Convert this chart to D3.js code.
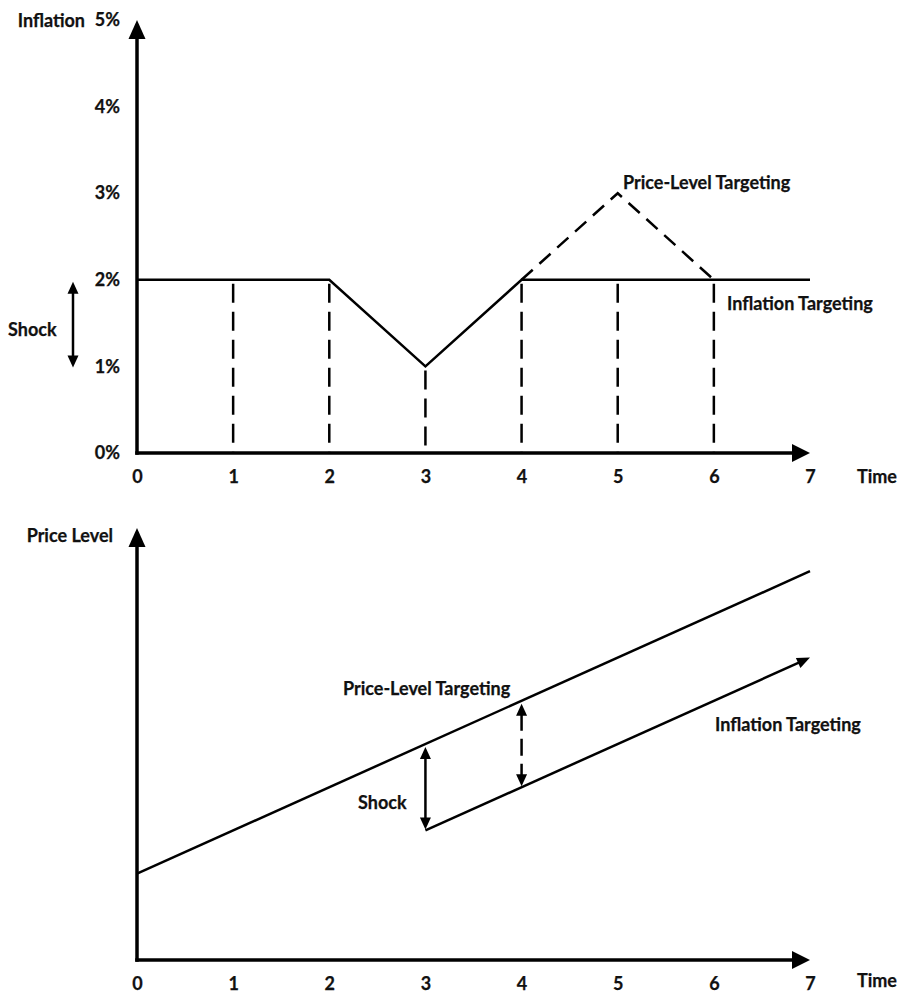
<!DOCTYPE html>
<html>
<head>
<meta charset="utf-8">
<script src="https://cdn.jsdelivr.net/npm/d3@7"></script>
<style>
  html, body { margin: 0; padding: 0; background: #fff; }
  svg { display: block; }
  text { font-family: Lato, "Open Sans", sans-serif; font-weight: 700; fill: #111; stroke: #111; stroke-width: 0.25px; }
</style>
</head>
<body>
<svg id="chart" width="897" height="996"></svg>
<script>
// ---- data ----
const timeTicks = [0, 1, 2, 3, 4, 5, 6, 7];
const inflationTicks = [0, 1, 2, 3, 4, 5];
const inflationTickLabels = ["0%", "1%", "2%", "3%", "4%", "5%"];

// Inflation path under inflation targeting (solid)
const itTimes = [0, 2, 3, 4, 7];
const itInflation = [2, 2, 1, 2, 2];
// Extra inflation under price-level targeting (dashed)
const plTimes = [4, 5, 6];
const plInflation = [2, 3, 2];
// Dashed drop lines from the inflation path to the time axis
const dropTimes = [1, 2, 3, 4, 5, 6];
const dropInflation = [2, 2, 1, 2, 2, 2];
// Shock marker on the inflation panel (from, to)
const inflationShock = [2, 1];

// Price level paths
const plPriceTimes = [0, 7];
const plPrice = [2, 9];
const itPriceTimes = [3, 7];
const itPrice = [3, 7];
// Shock at t=3 and the catch-up gap at t=4
const shockTime = 3, shockFrom = 5, shockTo = 3;
const gapTime = 4, gapFrom = 6, gapTo = 4;

// ---- layout ----
const FONT = 18;
const svg = d3.select("#chart");
const x = d3.scaleLinear().domain([0, 7]).range([137, 810]);
const yTop = d3.scaleLinear().domain([0, 5]).range([453, 20]);
const yBot = d3.scaleLinear().domain([0, 10]).range([960, 528]);

const pathOf = (xs, ys, yScale) => d3.line()(xs.map((t, i) => [x(t), yScale(ys[i])]));

// filled triangular arrow head pointing in direction (dx,dy), tip at (tx,ty)
function head(g, tx, ty, dx, dy, len, half) {
  const n = Math.hypot(dx, dy), ux = dx / n, uy = dy / n;
  const bx = tx - ux * len, by = ty - uy * len;
  const pts = [[tx, ty], [bx - uy * half, by + ux * half], [bx + uy * half, by - ux * half]];
  g.append("path").attr("d", d3.line()(pts) + "Z").attr("fill", "#000");
}

function axes(g, yZero, yTip) {
  // y axis with arrow
  g.append("line").attr("x1", x(0)).attr("x2", x(0))
    .attr("y1", yZero + 1.75).attr("y2", yTip + 15)
    .attr("stroke", "#000").attr("stroke-width", 3.5);
  head(g, x(0), yTip, 0, -1, 19, 8.5);
  // x axis with arrow
  g.append("line").attr("x1", x(0) - 1.75).attr("x2", x(7) - 15)
    .attr("y1", yZero).attr("y2", yZero)
    .attr("stroke", "#000").attr("stroke-width", 3.5);
  head(g, x(7), yZero, 1, 0, 18, 9);
}

function styleTicks(axisG) {
  axisG.select(".domain").remove();
  axisG.selectAll("text").attr("font-size", FONT).attr("font-family", null).attr("fill", null);
}

function label(g, px, py, txt, anchor) {
  g.append("text").attr("x", px).attr("y", py)
    .attr("text-anchor", anchor || "start")
    .attr("dominant-baseline", "central").attr("font-size", FONT).text(txt);
}

// ---------- upper panel: inflation ----------
const upper = svg.append("g");

// dashed drop lines
upper.selectAll("line.drop").data(dropTimes).join("line")
  .attr("class", "drop")
  .attr("x1", d => x(d)).attr("x2", d => x(d))
  .attr("y1", (d, i) => yTop(dropInflation[i]) + 4).attr("y2", yTop(0))
  .attr("stroke", "#000").attr("stroke-width", 2.5)
  .attr("stroke-dasharray", "19,9");

// inflation targeting path
upper.append("path").attr("d", pathOf(itTimes, itInflation, yTop))
  .attr("fill", "none").attr("stroke", "#000").attr("stroke-width", 2.5);

// price-level targeting overshoot
upper.append("path").attr("d", pathOf(plTimes, plInflation, yTop))
  .attr("fill", "none").attr("stroke", "#000").attr("stroke-width", 2.5)
  .attr("stroke-dasharray", "15,9");

axes(upper, yTop(0), yTop(5));

// y tick labels
const yAxG = upper.append("g").attr("transform", `translate(${x(0)},0)`)
  .call(d3.axisLeft(yTop).tickValues(inflationTicks)
    .tickFormat((d, i) => inflationTickLabels[i]).tickSize(0).tickPadding(17));
styleTicks(yAxG);

// x tick labels
const xAxG = upper.append("g").attr("transform", `translate(0,${yTop(0)})`)
  .call(d3.axisBottom(x).tickValues(timeTicks).tickSize(0).tickPadding(17)
    .tickFormat(d3.format("d")));
styleTicks(xAxG);

label(upper, 85, 20, "Inflation", "end");
label(upper, 857, 476, "Time");
label(upper, 623, 182, "Price-Level Targeting");
label(upper, 727, 303, "Inflation Targeting");
label(upper, 8, 329, "Shock");

// shock double arrow beside the axis
const sx = 73;
upper.append("line").attr("x1", sx).attr("x2", sx)
  .attr("y1", yTop(inflationShock[0]) + 10).attr("y2", yTop(inflationShock[1]) - 10)
  .attr("stroke", "#000").attr("stroke-width", 2.5);
head(upper, sx, yTop(inflationShock[0]) + 2, 0, -1, 12, 5.5);
head(upper, sx, yTop(inflationShock[1]) + 1, 0, 1, 12, 5.5);

// ---------- lower panel: price level ----------
const lower = svg.append("g");

lower.append("path").attr("d", pathOf(plPriceTimes, plPrice, yBot))
  .attr("fill", "none").attr("stroke", "#000").attr("stroke-width", 2.5);

// inflation-targeting price path with arrow at its end
{
  const x0 = x(itPriceTimes[0]), y0 = yBot(itPrice[0]);
  const x1 = x(itPriceTimes[1]), y1 = yBot(itPrice[1]);
  const dx = x1 - x0, dy = y1 - y0, n = Math.hypot(dx, dy);
  lower.append("line").attr("x1", x0).attr("y1", y0)
    .attr("x2", x1 - dx / n * 8).attr("y2", y1 - dy / n * 8)
    .attr("stroke", "#000").attr("stroke-width", 2.5);
  head(lower, x1, y1, dx, dy, 13, 5.5);
}

// shock: solid double arrow at t=3
{
  const xs = x(shockTime), ya = yBot(shockFrom) + 3, yb = yBot(shockTo) - 1;
  lower.append("line").attr("x1", xs).attr("x2", xs).attr("y1", ya + 10).attr("y2", yb - 10)
    .attr("stroke", "#000").attr("stroke-width", 2.5);
  head(lower, xs, ya, 0, -1, 12, 5.5);
  head(lower, xs, yb, 0, 1, 12, 5.5);
}
// catch-up gap: dashed double arrow at t=4
{
  const xs = x(gapTime), ya = yBot(gapFrom) + 3, yb = yBot(gapTo) - 1;
  lower.append("line").attr("x1", xs).attr("x2", xs).attr("y1", ya + 10).attr("y2", yb - 10)
    .attr("stroke", "#000").attr("stroke-width", 2.5).attr("stroke-dasharray", "17,8");
  head(lower, xs, ya, 0, -1, 12, 5.5);
  head(lower, xs, yb, 0, 1, 12, 5.5);
}

axes(lower, yBot(0), yBot(10));

const xAxG2 = lower.append("g").attr("transform", `translate(0,${yBot(0)})`)
  .call(d3.axisBottom(x).tickValues(timeTicks).tickSize(0).tickPadding(17)
    .tickFormat(d3.format("d")));
styleTicks(xAxG2);

label(lower, 113, 535, "Price Level", "end");
label(lower, 857, 980, "Time");
label(lower, 343, 688, "Price-Level Targeting");
label(lower, 715, 724, "Inflation Targeting");
label(lower, 358, 802, "Shock");
</script>
</body>
</html>
